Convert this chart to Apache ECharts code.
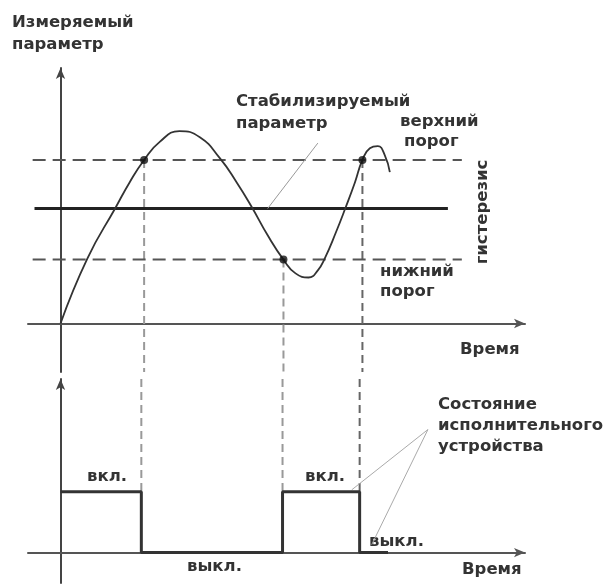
<!DOCTYPE html>
<html>
<head>
<meta charset="utf-8">
<script src="https://cdn.jsdelivr.net/npm/echarts@6/dist/echarts.min.js"></script>
<style>
  html, body { margin: 0; background: #fff; }
  #chart { width: 607px; height: 585px; }
</style>
</head>
<body>
<div id="chart"></div>
<script>
// измеряемый параметр (время, значение)
const curveTime  = [0, 5.8, 11.9, 14.9, 18, 21.3, 25.6, 30, 34.3, 37.9, 41.2, 44.6, 48, 50.6, 53.4, 55.4, 56.9, 59.3, 61.4, 63.4, 65, 66.6, 68.3, 69.8, 70.9]
const curveValue = [0, 25.5, 45.5, 55.3, 64, 71, 75.3, 72.9, 64.7, 55.3, 45.5, 34.5, 25, 19.6, 18, 20.8, 25.5, 35.7, 45.5, 55.3, 64, 68.6, 69.4, 65.9, 59.2]

const upperThreshold = 64
const setpoint = 45
const lowerThreshold = 25
const thresholdSpan = [-6, 86.4]
const setpointSpan = [-5.6, 83.4]

// моменты переключения
const switchTimes  = [18, 48, 65]
const switchValues = [64, 25, 64]

// состояние исполнительного устройства
const stateTime  = [0, 17.4, 17.4, 47.8, 47.8, 64.4, 64.4, 70.5]
const stateValue = [1, 1, 0, 0, 1, 1, 0, 0]

const font = 'bold 16.5px "DejaVu Sans"'
const textColor = '#333'
const dashColors = ['#999', '#999', '#666']

const chartIns = echarts.init(document.getElementById('chart'))

const axisX = (grid) => ({
  type: 'value', gridIndex: grid, min: -7, max: 100,
  axisLine: { symbol: ['none', 'arrow'], symbolSize: [7, 11], lineStyle: { color: '#555', width: 2 } },
  axisTick: { show: false }, axisLabel: { show: false }, splitLine: { show: false }
})
const axisY = (grid, min, max) => ({
  type: 'value', gridIndex: grid, min, max,
  axisLine: { symbol: ['none', 'arrow'], symbolSize: [7, 11], lineStyle: { color: '#444', width: 2 } },
  axisTick: { show: false }, axisLabel: { show: false }, splitLine: { show: false }
})

const plain = (grid, data, lineStyle, z) => ({
  type: 'line', xAxisIndex: grid, yAxisIndex: grid, data,
  symbol: 'none', silent: true, animation: false, lineStyle, z: z || 2
})

const series = []
// пороги и уставка
series.push(plain(0, thresholdSpan.map(t => [t, upperThreshold]), { color: '#555', width: 2, type: [13, 7] }))
series.push(plain(0, thresholdSpan.map(t => [t, lowerThreshold]), { color: '#555', width: 2, type: [13, 7] }))
series.push(plain(0, setpointSpan.map(t => [t, setpoint]), { color: '#222', width: 3 }))
// вертикальные пунктиры
switchTimes.forEach((t, i) => {
  const ls = { color: dashColors[i], width: 2, type: [8, 5] }
  series.push(plain(0, [[t, switchValues[i]], [t, -19]], ls, 1))
  series.push(plain(1, [[stateTime[i * 2 + 1], 2.85], [stateTime[i * 2 + 1], 1]], ls, 1))
})
// кривая
series.push(Object.assign(plain(0, curveTime.map((t, i) => [t, curveValue[i]]), { color: '#333', width: 1.8 }, 3),
  { smooth: 0.5 }))
series.push({
  type: 'scatter', xAxisIndex: 0, yAxisIndex: 0, symbolSize: 8, z: 4, animation: false,
  itemStyle: { color: '#111' }, data: switchTimes.map((t, i) => [t, switchValues[i]])
})
// выноска "Стабилизируемый параметр"
series.push(plain(0, [[55.4, 70.6], [44.6, 45]], { color: '#999', width: 1 }))
// состояние
series.push(plain(1, stateTime.map((t, i) => [t, stateValue[i]]), { color: '#333', width: 3 }, 3))
series.push(plain(1, [[79.1, 2.02], [62.7, 1.03]], { color: '#aaa', width: 1 }))
series.push(plain(1, [[79.1, 2.02], [67, 0.13]], { color: '#aaa', width: 1 }))

const label = (text, x, y, extra) => Object.assign({
  type: 'text', x, y, silent: true,
  style: { text, font, fill: textColor, verticalAlign: 'middle' }
}, extra || {})

const option = {
  backgroundColor: '#fff',
  animation: false,
  grid: [
    { left: 28, right: 82, top: 68, height: 304 },
    { left: 28, right: 82, top: 379, height: 204 }
  ],
  xAxis: [axisX(0), axisX(1)],
  yAxis: [axisY(0, -19, 100), axisY(1, -0.5, 2.85)],
  series,
  graphic: [
    label('Измеряемый', 12, 23),
    label('параметр', 12, 45),
    label('Стабилизируемый', 236, 102),
    label('параметр', 236, 124),
    label('верхний', 400, 122),
    label('порог', 404, 142),
    label('нижний', 380, 272),
    label('порог', 380, 292),
    label('Время', 460, 350),
    {
      type: 'text', x: 483, y: 212, rotation: Math.PI / 2, silent: true,
      style: { text: 'гистерезис', font, fill: textColor, align: 'center', verticalAlign: 'middle' }
    },
    label('вкл.', 87, 477),
    label('выкл.', 187, 567),
    label('вкл.', 305, 477),
    label('выкл.', 369, 542),
    label('Состояние', 438, 405),
    label('исполнительного', 438, 426),
    label('устройства', 438, 447),
    label('Время', 462, 570)
  ]
}
chartIns.setOption(option)
</script>
</body>
</html>
